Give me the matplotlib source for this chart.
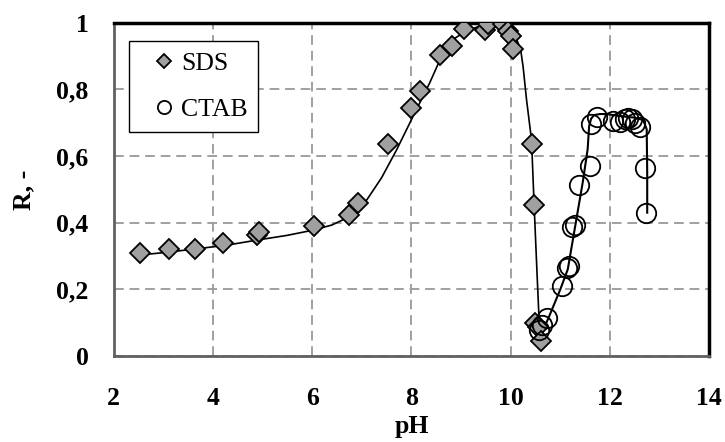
import matplotlib.pyplot as plt

plt.rcParams['font.family'] = ['Liberation Serif', 'DejaVu Serif']

# SDS measured points
sds_x = [2.53, 3.12, 3.64, 4.20, 4.88, 4.94, 6.04, 6.75, 6.93, 7.53, 7.99, 8.17,
         8.58, 8.81, 9.05, 9.48, 9.55, 9.84, 9.95, 10.0, 10.04, 10.43, 10.47,
         10.49, 10.56, 10.61]
sds_y = [0.309, 0.32, 0.32, 0.338, 0.363, 0.373, 0.391, 0.423, 0.46, 0.635, 0.745,
         0.795, 0.903, 0.93, 0.98, 0.978, 0.995, 0.995, 0.975, 0.96, 0.92, 0.636,
         0.453, 0.098, 0.088, 0.046]

# SDS fitted curve
sds_fit_x = [2.53, 3.0, 3.7, 4.3, 4.9, 5.5, 6.0, 6.4, 6.75, 7.1, 7.4, 7.7, 8.03,
             8.37, 8.58, 8.84, 9.1, 9.38, 9.65, 9.85, 10.0, 10.12, 10.2, 10.25,
             10.32, 10.42, 10.47, 10.53, 10.59]
sds_fit_y = [0.303, 0.31, 0.322, 0.333, 0.348, 0.362, 0.377, 0.393, 0.418, 0.468,
             0.535, 0.618, 0.718, 0.82, 0.89, 0.95, 0.975, 0.99, 0.99, 0.983, 0.97,
             0.95, 0.92, 0.868, 0.768, 0.648, 0.46, 0.25, 0.048]

# CTAB measured points
ctab_x = [10.57, 10.64, 10.74, 11.03, 11.13, 11.18, 11.23, 11.30, 11.37, 11.59,
          11.61, 11.74, 12.07, 12.20, 12.30, 12.37, 12.44, 12.50, 12.60, 12.71, 12.73]
ctab_y = [0.078, 0.093, 0.115, 0.21, 0.263, 0.27, 0.388, 0.393, 0.513, 0.57,
          0.695, 0.718, 0.705, 0.703, 0.71, 0.713, 0.71, 0.698, 0.688, 0.563, 0.43]

# CTAB curve
ctab_fit_x = [10.56, 10.75, 11.0, 11.15, 11.3, 11.45, 11.55, 11.58, 11.62, 11.68,
              11.8, 11.93, 12.2, 12.5, 12.67, 12.74, 12.75, 12.75]
ctab_fit_y = [0.05, 0.11, 0.2, 0.26, 0.39, 0.52, 0.62, 0.69, 0.712, 0.723,
              0.726, 0.726, 0.72, 0.715, 0.708, 0.68, 0.55, 0.43]

fig = plt.figure(figsize=(7.25, 4.42), dpi=100)
ax = fig.add_axes([0.1566, 0.1946, 0.8217, 0.754])

ax.plot(sds_fit_x, sds_fit_y, color='black', lw=1.2, zorder=2)
ax.plot(ctab_fit_x, ctab_fit_y, color='black', lw=1.5, zorder=2)
ax.plot(sds_x, sds_y, 'D', ms=9.8, mfc='#a0a0a0', mec='black', mew=1.3,
        label='SDS', zorder=3)
ax.plot(ctab_x, ctab_y, 'o', ms=14, mfc='none', mec='black', mew=1.3,
        label='CTAB', zorder=3)

ax.set_xlim(2, 14)
ax.set_ylim(0, 1)
ax.set_xticks([2, 4, 6, 8, 10, 12, 14])
ax.set_yticks([0, 0.2, 0.4, 0.6, 0.8, 1])
ax.set_yticklabels(['0', '0,2', '0,4', '0,6', '0,8', '1'])
ax.tick_params(length=0, labelsize=18.5)
ax.tick_params(axis='x', pad=22)
ax.tick_params(axis='y', pad=18)
for lab in ax.get_xticklabels() + ax.get_yticklabels():
    lab.set_fontweight('bold')

ax.grid(True, color='#a0a0a0', linestyle=(0, (5, 3)), lw=1.4)

ax.set_xlabel('pH', fontsize=18.5, fontweight='bold', labelpad=4)
ax.set_ylabel('R, -', fontsize=18.5, fontweight='bold', labelpad=15)

ax.spines['top'].set_linewidth(2.5)
ax.spines['right'].set_linewidth(2.5)
ax.spines['left'].set_color('#606060')
ax.spines['left'].set_linewidth(2.0)
ax.spines['bottom'].set_color('#606060')
ax.spines['bottom'].set_linewidth(2.0)

leg = ax.legend(loc='upper left', bbox_to_anchor=(0.026, 0.945), fontsize=18.5,
                frameon=True, fancybox=False, handletextpad=-0.25,
                borderpad=0.42, labelspacing=0.9, handlelength=1.85,
                borderaxespad=0)
leg.get_frame().set_edgecolor('black')
leg.get_frame().set_linewidth(1.0)
leg.get_frame().set_alpha(1)
leg.legend_handles[0].set_markersize(7.2)
leg.legend_handles[1].set_markersize(9.5)

fig.savefig('out.png', dpi=100)
